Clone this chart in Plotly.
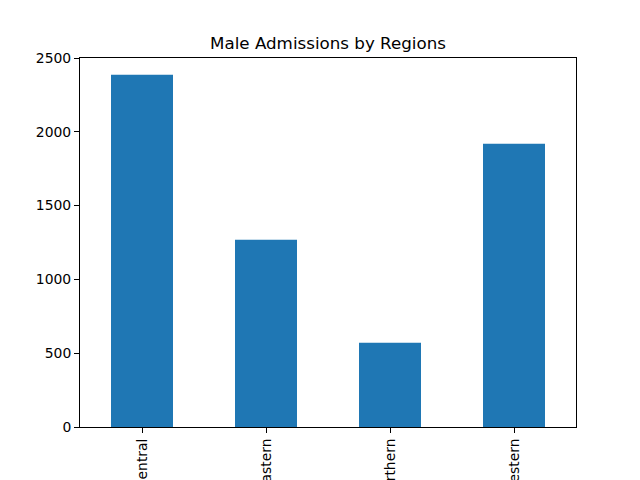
import plotly.graph_objects as go

regions = ["Central", "Eastern", "Northern", "Western"]
admissions = [2387, 1269, 571, 1919]
y_ticks = [0, 500, 1000, 1500, 2000, 2500]

fig = go.Figure()
fig.add_trace(go.Bar(
    x=regions,
    y=admissions,
    width=0.5,
    marker=dict(color="#1f77b4", line=dict(width=0)),
))

axis_style = dict(
    showline=True, linecolor="black", linewidth=1, mirror=True,
    ticks="outside", ticklen=5, tickwidth=1, tickcolor="black",
    showgrid=False, zeroline=False, automargin=False,
    tickfont=dict(family="DejaVu Sans", size=13.9, color="black"),
)

# the page body adds an 8px offset, so margins are shifted to compensate
fig.update_layout(
    width=640, height=480,
    margin=dict(l=72, r=72, t=50, b=61),
    paper_bgcolor="white", plot_bgcolor="white",
    showlegend=False,
    title=dict(text="Male Admissions by Regions", x=0.5, xref="paper",
               y=1 - 35 / 480, yref="container", yanchor="middle",
               font=dict(family="DejaVu Sans", size=16.7, color="black")),
)
fig.update_xaxes(range=[-0.5, 3.5], tickangle=-90, **axis_style)
fig.update_yaxes(range=[0, 2500], tickvals=y_ticks, **axis_style)

fig.write_html("out.html")
